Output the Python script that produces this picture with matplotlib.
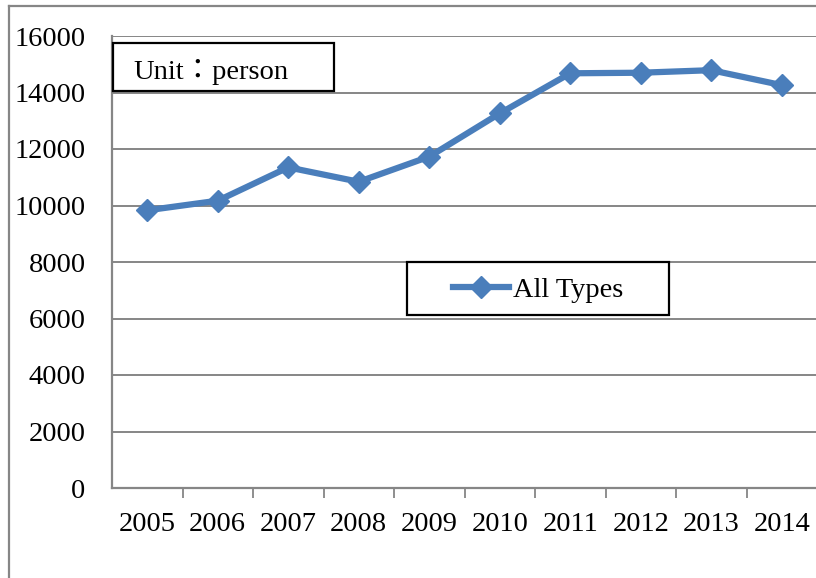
import matplotlib
matplotlib.use('Agg')
import matplotlib.pyplot
import matplotlib.patches
import matplotlib.lines
import matplotlib.ticker

years = ['2005', '2006', '2007', '2008', '2009', '2010', '2011', '2012', '2013', '2014']
allTypes = [9830, 10170, 11350, 10840, 11730, 13260, 14680, 14700, 14790, 14260]
yTicks = [0, 2000, 4000, 6000, 8000, 10000, 12000, 14000, 16000]

matplotlib.pyplot.rcParams['font.family'] = ['Liberation Serif', 'Noto Sans CJK JP']
matplotlib.pyplot.rcParams['font.size'] = 20.5

grey = '#868686'
blue = '#4A7EBB'

f = matplotlib.pyplot.figure(figsize=(8.16, 5.78), dpi=100)
ax = f.add_axes([112/816, 1 - 488/578, 705/816, 452/578])

# outer chart frame (top and left edges visible)
f.add_artist(matplotlib.lines.Line2D([9/816, 1.0], [1 - 6/578, 1 - 6/578], color=grey, lw=1.6, transform=f.transFigure))
f.add_artist(matplotlib.lines.Line2D([9/816, 9/816], [1 - 6/578, 0.0], color=grey, lw=1.6, transform=f.transFigure))

x = list(range(len(years)))
ax.plot(x, allTypes, color=blue, lw=4.5, marker='D', markersize=11, label='All Types', zorder=3)

ax.set_xlim(-0.5, len(years) - 0.5)
ax.set_ylim(0, 16000)
ax.set_yticks(yTicks)
ax.set_yticklabels([str(v) for v in yTicks])
ax.set_xticks(x)
ax.set_xticklabels(years)
ax.xaxis.set_minor_locator(matplotlib.ticker.FixedLocator([i + 0.5 for i in range(len(years))]))
ax.tick_params(axis='x', which='major', length=0, pad=17)
ax.tick_params(axis='x', which='minor', length=7, width=1.3, color=grey, direction='out')
ax.tick_params(axis='y', length=0, pad=19)
ax.yaxis.grid(True, color=grey, lw=1.4)
ax.set_axisbelow(True)
for side in ['top', 'right']:
    ax.spines[side].set_visible(False)
for side in ['left', 'bottom']:
    ax.spines[side].set_color(grey)
    ax.spines[side].set_linewidth(1.6)

# unit box
ax.add_patch(matplotlib.patches.Rectangle((0.0015, 0.878), 0.314, 0.1065, transform=ax.transAxes,
                                          facecolor='white', edgecolor='black', lw=1.6, zorder=4, clip_on=False))
ax.text(0.0298, 0.92, 'Unit：person', transform=ax.transAxes, ha='left', va='center', zorder=5)

# legend box
ax.add_patch(matplotlib.patches.Rectangle((0.418, 0.383), 0.372, 0.117, transform=ax.transAxes,
                                          facecolor='white', edgecolor='black', lw=1.6, zorder=4))
leg = ax.legend(loc='center', bbox_to_anchor=(0.604, 0.438), frameon=False, handlelength=2.0,
                handletextpad=0.12, borderpad=0.0)
leg.set_zorder(5)

matplotlib.pyplot.savefig('out.png', dpi=100)
matplotlib.pyplot.close('all')
